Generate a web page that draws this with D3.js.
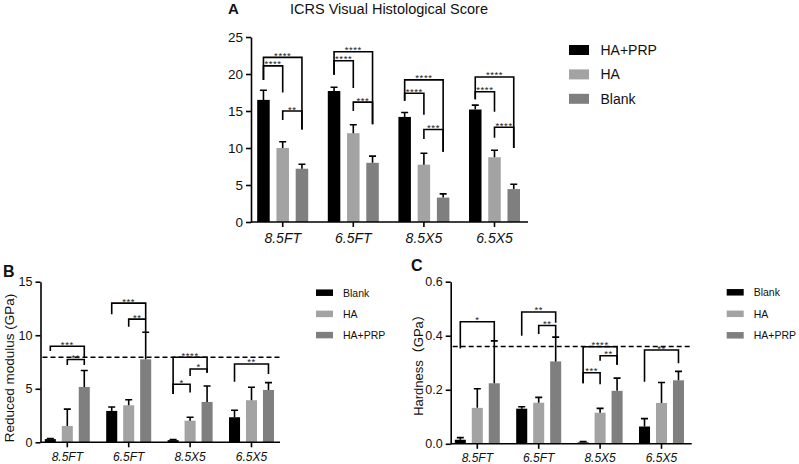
<!DOCTYPE html>
<html>
<head>
<meta charset="utf-8">
<script src="https://d3js.org/d3.v7.min.js"></script>
<style>
  body { margin: 0; background: #fff; }
  text { font-family: "Liberation Sans", Arial, "Noto Sans CJK SC", sans-serif; fill: #111; }
</style>
</head>
<body>
<script>
// ---- data ----
var categories = ["8.5FT", "6.5FT", "8.5X5", "6.5X5"];

// A: ICRS score (series order HA+PRP, HA, Blank)
var aSeries = ["HA+PRP", "HA", "Blank"];
var aHaPrp   = [16.5, 17.7, 14.2, 15.2];
var aHaPrpSd = [1.3, 0.5, 0.6, 0.6];
var aHa      = [10.0, 12.0, 7.75, 8.75];
var aHaSd    = [0.85, 1.15, 1.55, 0.95];
var aBlank   = [7.2, 8.0, 3.3, 4.45];
var aBlankSd = [0.6, 0.9, 0.5, 0.65];
var aTicks   = [0, 5, 10, 15, 20, 25];
// [group, from, to, line, left leg end, right leg end, label]
var aBrackets = [
  [0, 0, 2, 22.25, 19.2, 12.5, "****"], [0, 0, 1, 21.1, 19.2, 17.5, "****"], [0, 1, 2, 15.0, 13.8, 12.5, "**"],
  [1, 0, 2, 23.0, 19.9, 13.2, "****"], [1, 0, 1, 21.8, 19.9, 18.1, "****"], [1, 1, 2, 16.2, 15.0, 13.2, "***"],
  [2, 0, 2, 19.2, 16.4, 9.5, "****"], [2, 0, 1, 17.4, 16.4, 14.5, "****"], [2, 1, 2, 12.5, 11.2, 9.5, "***"],
  [3, 0, 2, 19.6, 16.6, 10.0, "****"], [3, 0, 1, 17.6, 16.6, 14.9, "****"], [3, 1, 2, 12.8, 11.4, 10.0, "****"]
];

// B: reduced modulus (series order Blank, HA, HA+PRP)
var bcSeries = ["Blank", "HA", "HA+PRP"];
var bBlank   = [0.3, 2.93, 0.2, 2.34];
var bBlankSd = [0.05, 0.37, 0.05, 0.66];
var bHa      = [1.52, 3.46, 2.02, 3.93];
var bHaSd    = [1.58, 0.52, 0.32, 1.21];
var bHaPrp   = [5.17, 7.75, 3.77, 4.89];
var bHaPrpSd = [1.53, 2.53, 1.49, 0.68];
var bTicks   = [0, 5, 10, 15];
var bRef     = 7.94;
var bBrackets = [
  [0, 0, 2, 8.97, 8.53, 7.9, "***"], [0, 1, 2, 7.74, 7.22, 7.22, "**"],
  [1, 0, 2, 13.0, 11.96, 11.55, "***"], [1, 1, 2, 11.5, 10.8, 10.3, "**"],
  [2, 0, 2, 7.94, 4.5, 6.5, "****"], [2, 1, 2, 6.85, 6.2, 6.5, "*"], [2, 0, 1, 5.42, 4.5, 4.64, "*"],
  [3, 0, 2, 7.32, 5.66, 6.38, "**"]
];

// C: hardness
var cBlank   = [0.015, 0.13, 0.005, 0.064];
var cBlankSd = [0.008, 0.007, 0.003, 0.029];
var cHa      = [0.133, 0.152, 0.115, 0.151];
var cHaSd    = [0.071, 0.02, 0.016, 0.076];
var cHaPrp   = [0.224, 0.305, 0.196, 0.235];
var cHaPrpSd = [0.157, 0.09, 0.047, 0.033];
var cTicks   = [0, 0.2, 0.4, 0.6];
var cRef     = 0.36;
var cBrackets = [
  [0, 0, 2, 0.452, 0.353, 0.381, "*"],
  [1, 0, 2, 0.488, 0.40, 0.448, "**"], [1, 1, 2, 0.438, 0.406, 0.394, "**"],
  [2, 0, 2, 0.359, 0.224, 0.293, "****"], [2, 1, 2, 0.326, 0.307, 0.293, "**"], [2, 0, 1, 0.263, 0.224, 0.22, "***"],
  [3, 0, 2, 0.347, 0.23, 0.298, "**"]
];

var black = "#000000", light = "#a3a3a3", dark = "#7f7f7f";

var svg = d3.select("body").append("svg")
  .attr("width", 799).attr("height", 464);

function drawPanel(p) {
  var g = svg.append("g");
  var y = d3.scaleLinear().domain([0, p.yMax]).range([p.y0, p.y1]);
  var x = d3.scaleBand().domain(categories).range([p.bx0, p.bx1]);
  var sub = d3.scaleBand().domain(d3.range(p.series.length))
    .range([-p.gw / 2, p.gw / 2]).paddingInner(0.35);
  var bw = sub.bandwidth();
  function cx(i, s) { return x(categories[i]) + x.bandwidth() / 2 + sub(s) + bw / 2; }

  // bars + error bars
  p.series.forEach(function(name, s) {
    var rows = categories.map(function(c, i) { return {i: i, m: p.means[s][i], sd: p.sds[s][i]}; });
    g.selectAll(null).data(rows).enter().append("rect")
      .attr("x", function(d) { return cx(d.i, s) - bw / 2; })
      .attr("y", function(d) { return y(d.m); })
      .attr("width", bw)
      .attr("height", function(d) { return y(0) - y(d.m); })
      .attr("fill", p.colors[s]);
    g.selectAll(null).data(rows).enter().append("path")
      .attr("d", function(d) {
        var xx = cx(d.i, s), yt = y(d.m + d.sd);
        return "M" + xx + "," + y(d.m) + "V" + yt + "M" + (xx - 3.5) + "," + yt + "H" + (xx + 3.5);
      })
      .attr("stroke", "#000").attr("stroke-width", 1.6).attr("fill", "none");
  });

  // axes
  var ya = g.append("g").attr("transform", "translate(" + p.ax0 + ",0)")
    .call(d3.axisLeft(y).tickValues(p.ticks).tickSize(5).tickSizeOuter(0).tickPadding(3)
      .tickFormat(p.fmt));
  ya.selectAll("text").style("font-size", p.tickFont + "px").style("fill", "#111");
  ya.selectAll("line, path").attr("stroke", "#000").attr("stroke-width", 1.6);

  var xa = g.append("g").attr("transform", "translate(0," + p.y0 + ")")
    .call(d3.axisBottom(x).tickSize(5).tickSizeOuter(0).tickPadding(p.catPad));
  xa.select(".domain").remove();
  xa.append("line").attr("x1", p.ax0).attr("x2", p.ax1).attr("stroke", "#000").attr("stroke-width", 1.6);
  xa.selectAll("line").attr("stroke", "#000").attr("stroke-width", 1.6);
  xa.selectAll("text").style("font-size", p.catFont + "px").style("font-style", "italic").style("fill", "#111");

  // reference line
  if (p.ref != null) {
    g.append("line").attr("x1", p.ax0 + 2).attr("x2", p.ax1)
      .attr("y1", y(p.ref)).attr("y2", y(p.ref))
      .attr("stroke", "#000").attr("stroke-width", 1.4).attr("stroke-dasharray", "5,3");
  }

  // significance brackets
  p.brackets.forEach(function(b) {
    var x1 = cx(b[0], b[1]), x2 = cx(b[0], b[2]);
    g.append("path")
      .attr("d", "M" + x1 + "," + y(b[4]) + "V" + y(b[3]) + "H" + x2 + "V" + y(b[5]))
      .attr("stroke", "#000").attr("stroke-width", 1.6).attr("fill", "none");
    g.append("text").attr("x", (x1 + x2) / 2).attr("y", y(b[3]) + 1.5)
      .attr("text-anchor", "middle").style("font-size", "9.5px").style("letter-spacing", "0.6px")
      .style("fill", "#222")
      .text(b[6]);
  });

  // legend
  p.series.forEach(function(name, s) {
    var ly = p.legY + s * p.legStep;
    g.append("rect").attr("x", p.legX).attr("y", ly - p.swH / 2)
      .attr("width", p.swW).attr("height", p.swH).attr("fill", p.colors[s]);
    g.append("text").attr("x", p.legX + p.swW + p.legGap).attr("y", ly)
      .attr("dominant-baseline", "central").style("font-size", p.legFont + "px").text(name);
  });

  // panel letter + y title
  g.append("text").attr("x", p.letterX).attr("y", p.letterY)
    .style("font-size", p.letterFont + "px").style("font-weight", "bold").text(p.letter);
  if (p.yTitle) {
    g.append("text").attr("transform", "translate(" + p.yTitleX + "," + p.yTitleY + ") rotate(-90)")
      .attr("text-anchor", "middle").style("font-size", p.yTitleFont + "px").text(p.yTitle);
  }
}

drawPanel({
  series: aSeries, colors: [black, light, dark],
  means: [aHaPrp, aHa, aBlank], sds: [aHaPrpSd, aHaSd, aBlankSd],
  yMax: 25, y0: 222, y1: 37, ticks: aTicks, fmt: d3.format("d"), tickFont: 13.5,
  bx0: 247.4, bx1: 529.8, gw: 51, ax0: 251, ax1: 528, catFont: 14, catPad: 6,
  brackets: aBrackets, ref: null,
  legX: 569, legY: 50, legStep: 24.4, swW: 20, swH: 10, legGap: 11.5, legFont: 14,
  letter: "A", letterX: 228, letterY: 14, letterFont: 15
});
svg.append("text").attr("x", 389).attr("y", 14).attr("text-anchor", "middle")
  .style("font-size", "14.5px").text("ICRS Visual Histological Score");

drawPanel({
  series: bcSeries, colors: [black, light, dark],
  means: [bBlank, bHa, bHaPrp], sds: [bBlankSd, bHaSd, bHaPrpSd],
  yMax: 15, y0: 442.3, y1: 281.7, ticks: bTicks, fmt: d3.format("d"), tickFont: 12.5,
  bx0: 36.6, bx1: 282.2, gw: 45, ax0: 40.5, ax1: 280, catFont: 12, catPad: 5,
  brackets: bBrackets, ref: bRef,
  legX: 316, legY: 292.7, legStep: 21.2, swW: 17, swH: 6.5, legGap: 10, legFont: 10.5,
  letter: "B", letterX: 3, letterY: 277, letterFont: 16,
  yTitle: "Reduced modulus (GPa)", yTitleX: 13.5, yTitleY: 368, yTitleFont: 13.5
});

drawPanel({
  series: bcSeries, colors: [black, light, dark],
  means: [cBlank, cHa, cHaPrp], sds: [cBlankSd, cHaSd, cHaPrpSd],
  yMax: 0.6, y0: 443.8, y1: 281.7, ticks: cTicks, fmt: d3.format(".1f"), tickFont: 12.5,
  bx0: 446.6, bx1: 692.2, gw: 45, ax0: 450.7, ax1: 691.7, catFont: 12, catPad: 5,
  brackets: cBrackets, ref: cRef,
  legX: 726.7, legY: 292.3, legStep: 21.5, swW: 17, swH: 6.5, legGap: 10, legFont: 10.5,
  letter: "C", letterX: 411, letterY: 271, letterFont: 16,
  yTitle: "Hardness（GPa）", yTitleX: 423, yTitleY: 362, yTitleFont: 13
});
</script>
</body>
</html>
